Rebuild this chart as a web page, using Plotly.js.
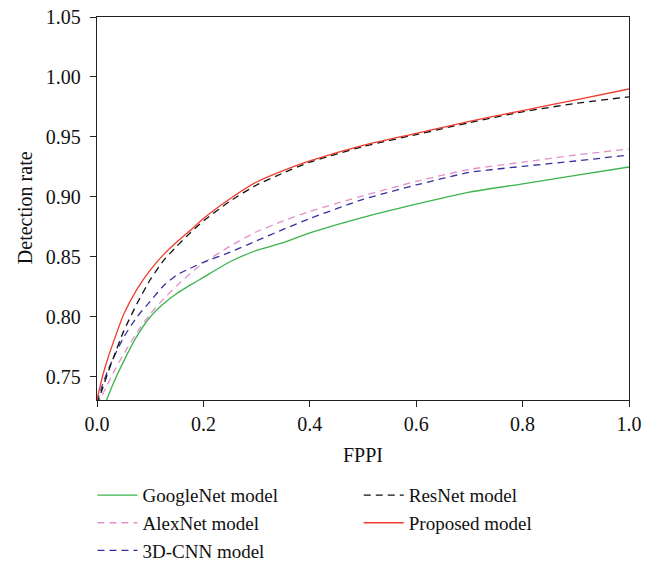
<!DOCTYPE html>
<html>
<head>
<meta charset="utf-8">
<script src="https://cdn.plot.ly/plotly-3.0.1.min.js"></script>
<style>html,body{margin:0;padding:0;background:#fff;}#chart{width:656px;height:561px;}</style>
</head>
<body>
<div id="chart"></div>
<script>
var fppi = [0, 0.01, 0.02, 0.03, 0.05, 0.075, 0.1, 0.125, 0.15, 0.175, 0.2, 0.25, 0.3, 0.35, 0.4, 0.5, 0.6, 0.7, 0.8, 0.9, 1.0];
var googleNet = [0.708, 0.721, 0.733, 0.744, 0.763, 0.784, 0.800, 0.811, 0.8195, 0.8265, 0.833, 0.846, 0.8555, 0.862, 0.870, 0.883, 0.894, 0.904, 0.911, 0.918, 0.925];
var alexNet = [0.726, 0.735, 0.744, 0.753, 0.769, 0.787, 0.8025, 0.815, 0.826, 0.836, 0.845, 0.859, 0.871, 0.880, 0.888, 0.901, 0.913, 0.923, 0.929, 0.935, 0.940];
var cnn3d = [0.729, 0.743, 0.755, 0.765, 0.783, 0.800, 0.813, 0.826, 0.835, 0.8405, 0.8455, 0.854, 0.8635, 0.873, 0.882, 0.898, 0.910, 0.9205, 0.9255, 0.930, 0.935];
var resNet = [0.727, 0.740, 0.753, 0.765, 0.788, 0.811, 0.831, 0.847, 0.859, 0.870, 0.880, 0.8965, 0.910, 0.920, 0.929, 0.942, 0.952, 0.962, 0.971, 0.978, 0.9835];
var proposed = [0.731, 0.750, 0.765, 0.778, 0.802, 0.823, 0.839, 0.852, 0.8625, 0.872, 0.882, 0.8985, 0.9125, 0.922, 0.930, 0.943, 0.953, 0.963, 0.972, 0.981, 0.990];

var xTickVals = [0, 0.2, 0.4, 0.6, 0.8, 1.0];
var xTickText = ["0.0", "0.2", "0.4", "0.6", "0.8", "1.0"];
var yTickVals = [0.75, 0.80, 0.85, 0.90, 0.95, 1.00, 1.05];
var yTickText = ["0.75", "0.80", "0.85", "0.90", "0.95", "1.00", "1.05"];

var font = "Liberation Serif, Times New Roman, serif";
function tr(name, y, color, dash, legend) {
  return {x: fppi, y: y, name: name, type: "scatter", mode: "lines", legend: legend,
    line: {color: color, width: 1.3, dash: dash, shape: "spline", smoothing: 0.5}};
}
var data = [
  tr("GoogleNet model", googleNet, "#3cb44b", "solid", "legend"),
  tr("AlexNet model", alexNet, "#e38fca", "7px,5px", "legend"),
  tr("3D-CNN model", cnn3d, "#3a2f9e", "7px,5px", "legend"),
  tr("ResNet model", resNet, "#111111", "7px,5px", "legend2"),
  tr("Proposed model", proposed, "#f03c2c", "solid", "legend2")
];
var legendBase = {xanchor: "left", yanchor: "top", y: -0.199,
  orientation: "v", itemwidth: 40, font: {family: font, size: 19}, tracegroupgap: 0,
  bgcolor: "rgba(0,0,0,0)", borderwidth: 0};
var layout = {
  width: 656, height: 561,
  margin: {l: 97, r: 27, t: 17, b: 161, autoexpand: false},
  paper_bgcolor: "#fff", plot_bgcolor: "#fff",
  font: {family: font, size: 20, color: "#111"},
  showlegend: true,
  xaxis: {range: [0, 1], tickmode: "array", tickvals: xTickVals, ticktext: xTickText,
    showgrid: false, zeroline: false, showline: true, mirror: true, linecolor: "#222", linewidth: 1.2,
    ticks: "outside", ticklen: 6, tickcolor: "#222", tickfont: {family: font, size: 20},
    title: {text: "FPPI", font: {family: font, size: 20}, standoff: 13}},
  yaxis: {range: [0.7308, 1.05], tickmode: "array", tickvals: yTickVals, ticktext: yTickText,
    showgrid: false, zeroline: false, showline: true, mirror: true, linecolor: "#222", linewidth: 1.2,
    ticks: "outside", ticklen: 6, tickcolor: "#222", tickfont: {family: font, size: 20},
    ticklabelstandoff: 5},
  annotations: [{text: "Detection rate", xref: "paper", yref: "paper", x: -0.1353, y: 0.501,
    xanchor: "center", yanchor: "middle", textangle: -90, showarrow: false,
    font: {family: font, size: 20, color: "#111"}}],
  legend: Object.assign({}, legendBase, {x: -0.0085}),
  legend2: Object.assign({}, legendBase, {x: 0.492})
};
Plotly.newPlot("chart", data, layout, {displayModeBar: false, staticPlot: true});
</script>
</body>
</html>
